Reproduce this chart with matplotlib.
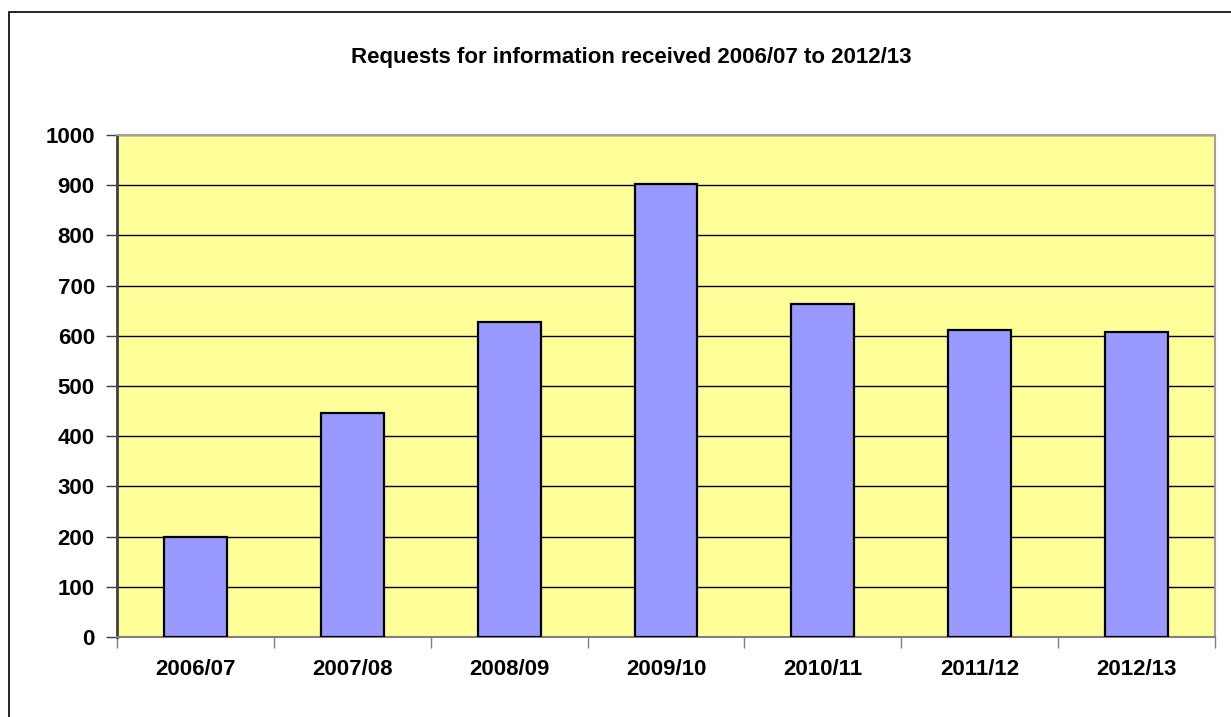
import matplotlib.pyplot as plt
import numpy as np
from matplotlib.patches import Rectangle

years = ["2006/07", "2007/08", "2008/09", "2009/10", "2010/11", "2011/12", "2012/13"]
requests = [200, 446, 628, 903, 664, 612, 608]
y_ticks = [0, 100, 200, 300, 400, 500, 600, 700, 800, 900, 1000]

plt.rcParams["font.family"] = ["Liberation Sans", "DejaVu Sans"]
plt.rcParams["font.weight"] = "bold"

fig = plt.figure(figsize=(12.31, 7.17), dpi=100)
W, H = 1231, 717

# outer chart frame (runs off the right/bottom edge)
fig.patches.append(Rectangle((8.5 / W, -0.05), 1.1, 1 - 11.5 / H + 0.05,
                             transform=fig.transFigure, fill=False,
                             edgecolor="black", lw=1.2))

ax = fig.add_axes([117 / W, 1 - 637 / H, (1215 - 117) / W, (637 - 135) / H])
ax.set_facecolor("#FFFF99")

x = np.arange(len(years))
ax.bar(x, requests, width=0.4, color="#9999FF", edgecolor="black", lw=1.6, zorder=3)

ax.set_xlim(-0.5, len(years) - 0.5)
ax.set_ylim(0, 1000)
ax.set_yticks(y_ticks)
ax.set_yticklabels([str(v) for v in y_ticks], fontsize=16, fontweight="bold")
ax.yaxis.grid(True, color="black", lw=1)
ax.set_axisbelow(True)

ax.set_xticks(x)
ax.set_xticklabels(years, fontsize=16, fontweight="bold")
ax.tick_params(axis="x", length=0, pad=16)
ax.set_xticks(np.arange(len(years) + 1) - 0.5, minor=True)
ax.tick_params(axis="x", which="minor", length=8, width=1, color="#808080")
ax.tick_params(axis="y", length=8, width=1, pad=8, color="#404040")

ax.spines["left"].set_color("#404040")
ax.spines["left"].set_linewidth(2)
ax.spines["bottom"].set_color("#808080")
ax.spines["bottom"].set_linewidth(1.5)
ax.spines["top"].set_color("#A0A0A0")
ax.spines["top"].set_linewidth(1.5)
ax.spines["right"].set_color("#A0A0A0")
ax.spines["right"].set_linewidth(1.5)

fig.text(631 / W, 1 - 57 / H, "Requests for information received 2006/07 to 2012/13",
         ha="center", va="center", fontsize=16, fontweight="bold")

fig.savefig("out.png", dpi=100)
